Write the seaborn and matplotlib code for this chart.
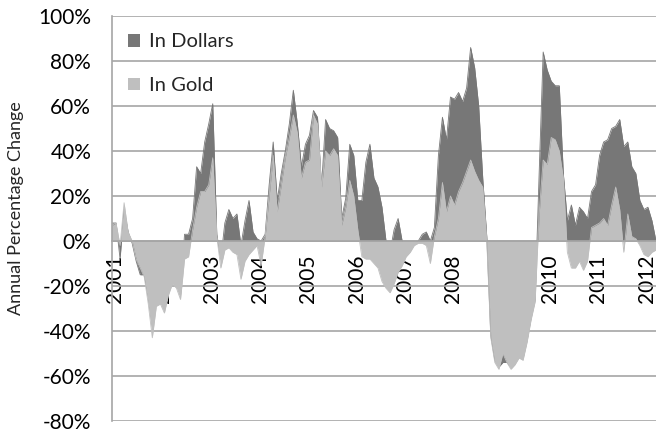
import numpy as np
import pandas as pd
import matplotlib
matplotlib.use("Agg")
import matplotlib.pyplot as plt
import seaborn as sns
from matplotlib.patches import Patch

# ---- data (monthly, Jan 2001 .. Apr 2012) ----
year_labels = [str(y) for y in range(2001, 2013)]
series_names = ["In Dollars", "In Gold"]

in_gold = [7, 8, -2, 17, 4, 0, -8, -12, -16, -28, -43, -29,
           -28, -32, -24, -19, -21, -26, -8, -7, 5, 15, 22, 22,
           25, 37, 2, -12, -4, -3, -5, -6, -17, -9, -6, -4,
           -2, -11, 2, 20, 38, 13, 25, 37, 46, 56, 48, 28,
           35, 36, 56, 52, 24, 40, 38, 41, 38, 7, 15, 27,
           20, 5, -7, -8, -8, -10, -12, -18, -21, -23, -19, -14,
           -11, -7, -5, -2, -1, -1, -2, -10, 2, 10, 26, 13,
           20, 16, 22, 26, 31, 36, 31, 27, 24, 0, -43, -54,
           -57, -50, -54, -57, -55, -52, -53, -45, -35, -27, 12, 36,
           34, 46, 45, 40, 28, -5, -12, -12, -9, -13, -9, 6,
           7, 8, 10, 7, 16, 24, 14, -5, 12, 2, 1, -2,
           -6, -7, -5, -4]

in_dollars = [8, 8, -8, 14, 4, -1, -9, -15, -15, -25, -38, -26,
              -25, -30, -22, -17, -19, -24, 3, 3, 10, 33, 30, 44,
              52, 61, 3, -8, 8, 14, 10, 12, -2, 9, 18, 4,
              1, 0, 3, 25, 44, 18, 30, 40, 52, 67, 52, 33,
              43, 47, 58, 55, 24, 54, 50, 49, 46, 10, 19, 43,
              38, 18, 18, 35, 43, 28, 24, 15, 0, -5, 5, 10,
              0, -2, -2, -1, 0, 3, 4, 0, 6, 38, 55, 45,
              64, 63, 66, 62, 68, 86, 77, 60, 28, 2, -42, -53,
              -56, -54, -54, -56, -54, -51, -52, -44, -34, -26, 30, 84,
              76, 71, 69, 69, 30, 9, 16, 7, 15, 13, 10, 22,
              25, 38, 44, 45, 50, 51, 54, 42, 44, 33, 30, 18,
              14, 15, 9, 0]

months = np.arange(len(in_gold))
df = pd.DataFrame({"month": months, "In Dollars": in_dollars, "In Gold": in_gold})

DARK = "#777777"
LIGHT = "#BFBFBF"
GRID = "#A6A6A6"

sns.set_theme(style="white")
plt.rcParams["font.family"] = ["Lato", "DejaVu Sans"]

fig = plt.figure(figsize=(6.56, 4.34), dpi=100)
ax = fig.add_axes([112 / 656, 13 / 434, 544 / 656, 405 / 434])

ax.fill_between(df["month"], 0, df["In Dollars"], color=DARK, lw=0, zorder=1)
sns.lineplot(data=df, x="month", y="In Dollars", color=DARK, lw=0.6, ax=ax, legend=False, zorder=1.1)
ax.fill_between(df["month"], 0, df["In Gold"], color=LIGHT, lw=0, zorder=1.2)
sns.lineplot(data=df, x="month", y="In Gold", color=LIGHT, lw=0.6, ax=ax, legend=False, zorder=1.3)

for s in ["top", "right"]:
    ax.spines[s].set_visible(False)
ax.spines["left"].set_color(GRID)
ax.spines["left"].set_linewidth(1.2)
ax.spines["bottom"].set_position(("data", 0))
ax.spines["bottom"].set_color(GRID)
ax.spines["bottom"].set_linewidth(1.2)
ax.spines["bottom"].set_zorder(3)

ax.set_xlim(0, len(months) - 1)
ax.set_ylim(-80, 100)
ax.set_yticks(range(-80, 101, 20))
ax.set_yticklabels([f"{v}%" for v in range(-80, 101, 20)])
ax.yaxis.grid(True, color=GRID, lw=1.2, zorder=0)
ax.set_axisbelow(True)

ax.set_xticks(np.arange(0, len(months), 12) + 0.7)
ax.set_xticklabels(year_labels)

ax.tick_params(axis="y", length=0, pad=15, colors="black", labelsize=15)
ax.tick_params(axis="x", length=0, pad=10, colors="black", labelrotation=90, labelsize=15)
for lbl in ax.get_xticklabels():
    lbl.set_verticalalignment("top")
    lbl.set_horizontalalignment("center")
ax.set_xlabel("")
ax.set_ylabel("")

fig.text(16 / 656, 1 - 208 / 434, "Annual Percentage Change", rotation=90,
         ha="center", va="center", fontsize=13)

handles = [Patch(facecolor=DARK, edgecolor="none"), Patch(facecolor=LIGHT, edgecolor="none")]
ax.legend(handles, series_names, loc="upper left", bbox_to_anchor=(0.029, 0.957),
          frameon=False, fontsize=14.5, handlelength=0.6, handleheight=0.6,
          handletextpad=0.45, labelspacing=1.33, borderpad=0, borderaxespad=0)

fig.savefig("out.png", dpi=100)
